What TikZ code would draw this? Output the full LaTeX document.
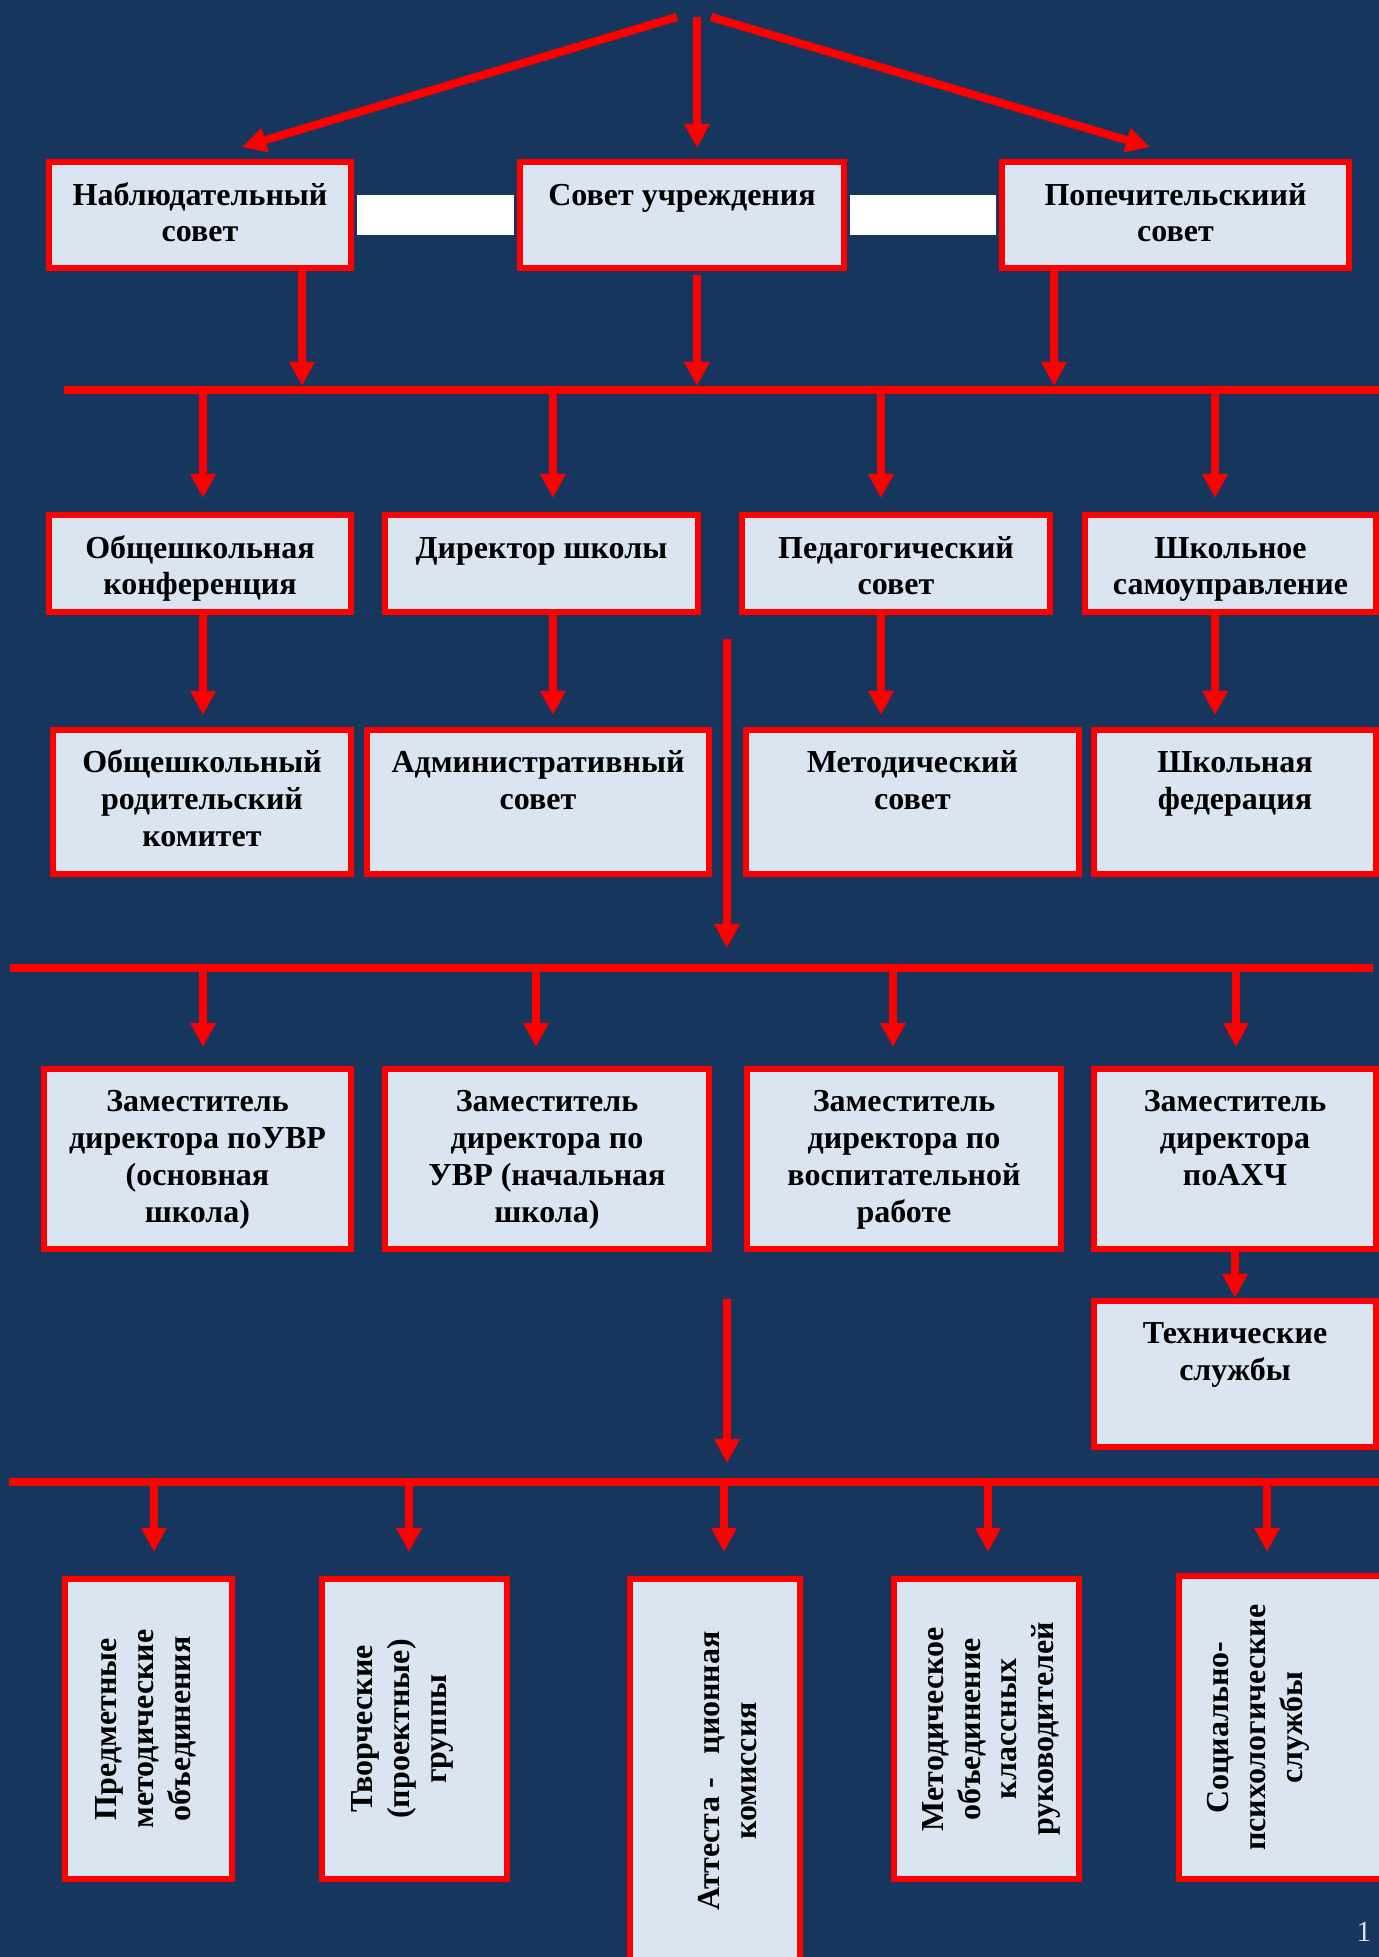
\documentclass[tikz,border=0pt]{standalone}
\usepackage{fontspec}
\setmainfont{Liberation Serif}
\usetikzlibrary{arrows.meta}

\definecolor{pagebg}{RGB}{23,54,93}
\definecolor{cardfill}{RGB}{219,229,241}
\newcommand{\cardfont}{\bfseries\fontsize{9.1}{10.5}\selectfont}
\newcommand{\toplines}[3]{\parbox[c][#2][t]{#1}{\centering\rule{0pt}{0.43cm}#3}}

\begin{document}
\begin{tikzpicture}[x=0.01cm, y=-0.01cm,
  card/.style={draw=red, fill=cardfill, line width=1.7pt, inner sep=0pt, font=\cardfont},
  sidetext/.style={rotate=90, align=center, inner sep=0pt, font=\cardfont},
  feed/.style={red, line width=2.3pt, -{Triangle[length=0.24cm, width=0.24cm]}},
  rail/.style={red, line width=2.3pt}]
\useasboundingbox (0,0) rectangle (1379,1957);
\fill [pagebg] (0,0) rectangle (1379,1957);
\clip (0,0) rectangle (1379,1957);

% councils
\node [card] (nab) at (200,215) {\toplines{3.02cm}{1.06cm}{Наблюдательный\\совет}};
\node [card] (sovet) at (682,215) {\toplines{3.24cm}{1.06cm}{Совет учреждения}};
\node [card] (pop) at (1175.5,215) {\toplines{3.47cm}{1.06cm}{Попечительскиий\\совет}};
\draw [white, line width=0.39cm, shorten <=0.03cm, shorten >=0.03cm] (nab.east) -- (sovet.west);
\draw [white, line width=0.39cm, shorten <=0.03cm, shorten >=0.03cm] (sovet.east) -- (pop.west);

\coordinate (apex) at (697,17);
\draw [feed] ([xshift=-0.2cm]apex) -- ([xshift=0.42cm,yshift=0.12cm]nab.north);
\draw [feed, shorten >=0.11cm] (apex) -- (apex |- sovet.north);
\draw [feed] ([xshift=0.14cm]apex) -- ([xshift=-0.255cm,yshift=0.12cm]pop.north);

% first rail
\coordinate (bus1w) at (64,390);
\coordinate (bus1e) at (1379,390);
\draw [rail] (bus1w) -- (bus1e);
\coordinate (b1n) at (302,390);
\coordinate (b1s) at (697,390);
\coordinate (b1p) at (1054,390);
\coordinate (b1a) at (203,390);
\coordinate (b1b) at (553,390);
\coordinate (b1c) at (881,390);
\coordinate (b1d) at (1215,390);
\draw [feed, shorten >=0.04cm] (nab.south -| b1n) -- (b1n);
\draw [feed, shorten >=0.04cm] ([yshift=-0.04cm]sovet.south -| b1s) -- (b1s);
\draw [feed, shorten >=0.04cm] (pop.south -| b1p) -- (b1p);

% second row
\node [card] (conf) at (200,563.5) {\toplines{3.02cm}{0.97cm}{Общешкольная\\конференция}};
\node [card] (dir) at (541.5,563.5) {\toplines{3.13cm}{0.97cm}{Директор школы}};
\node [card] (ped) at (896,563.5) {\toplines{3.08cm}{0.97cm}{Педагогический\\совет}};
\node [card] (selfgov) at (1230.5,563.5) {\toplines{2.91cm}{0.97cm}{Школьное\\самоуправление}};
\draw [feed, shorten >=0.14cm] (b1a) -- (b1a |- conf.north);
\draw [feed, shorten >=0.14cm] (b1b) -- (b1b |- dir.north);
\draw [feed, shorten >=0.14cm] (b1c) -- (b1c |- ped.north);
\draw [feed, shorten >=0.14cm] (b1d) -- (b1d |- selfgov.north);

% third row
\node [card] (parcom) at (202,802) {\toplines{2.98cm}{1.44cm}{Общешкольный\\родительский\\комитет}};
\node [card] (admin) at (538,802) {\toplines{3.42cm}{1.44cm}{Административный\\совет}};
\node [card] (metod) at (912.5,802) {\toplines{3.33cm}{1.44cm}{Методический\\совет}};
\node [card] (fed) at (1235,802) {\toplines{2.82cm}{1.44cm}{Школьная\\федерация}};
\draw [feed, shorten >=0.12cm] (conf.south -| b1a) -- (parcom.north -| b1a);
\draw [feed, shorten >=0.12cm] (dir.south -| b1b) -- (admin.north -| b1b);
\draw [feed, shorten >=0.12cm] (ped.south -| b1c) -- (metod.north -| b1c);
\draw [feed, shorten >=0.12cm] (selfgov.south -| b1d) -- (fed.north -| b1d);

% second rail
\coordinate (bus2w) at (10,968);
\coordinate (bus2e) at (1373,968);
\draw [rail] (bus2w) -- (bus2e);
\coordinate (drop1) at (727,639);
\coordinate (b2m) at (727,968);
\draw [feed, shorten >=0.2cm] (drop1) -- (b2m);
\coordinate (b2a) at (203,968);
\coordinate (b2b) at (536,968);
\coordinate (b2c) at (893,968);
\coordinate (b2d) at (1236,968);

% deputies
\node [card] (dep1) at (197.5,1159) {\toplines{3.07cm}{1.80cm}{Заместитель\\директора поУВР\\(основная\\школа)}};
\node [card] (dep2) at (547,1159) {\toplines{3.24cm}{1.80cm}{Заместитель\\директора по\\УВР (начальная\\школа)}};
\node [card] (dep3) at (904,1159) {\toplines{3.14cm}{1.80cm}{Заместитель\\директора по\\воспитательной\\работе}};
\node [card] (dep4) at (1235,1159) {\toplines{2.82cm}{1.80cm}{Заместитель\\директора\\поАХЧ}};
\draw [feed, shorten >=0.19cm] (b2a) -- (b2a |- dep1.north);
\draw [feed, shorten >=0.19cm] (b2b) -- (b2b |- dep2.north);
\draw [feed, shorten >=0.19cm] (b2c) -- (b2c |- dep3.north);
\draw [feed, shorten >=0.19cm] (b2d) -- (b2d |- dep4.north);

\node [card] (tech) at (1235,1374) {\toplines{2.82cm}{1.46cm}{Технические\\службы}};
\draw [feed] (dep4) -- (tech);

% third rail
\coordinate (bus3w) at (9,1482);
\coordinate (bus3e) at (1379,1482);
\draw [rail] (bus3w) -- (bus3e);
\coordinate (drop2) at (727,1299);
\coordinate (b3m) at (727,1482);
\draw [feed, shorten >=0.19cm] (drop2) -- (b3m);
\coordinate (b3a) at (154,1482);
\coordinate (b3b) at (409,1482);
\coordinate (b3c) at (724,1482);
\coordinate (b3d) at (988,1482);
\coordinate (b3e) at (1267,1482);

% bottom groups
\node [card, minimum width=1.67cm, minimum height=3.00cm,
  label={[xshift=-0.03cm, sidetext]center:{Предметные\\методические\\объединения}}] (pmo) at (148.5,1729) {};
\node [card, minimum width=1.85cm, minimum height=3.00cm,
  label={[xshift=-0.12cm, sidetext]center:{Творческие\\(проектные)\\группы}}] (tvg) at (414.5,1729) {};
\node [card, minimum width=1.70cm, minimum height=3.84cm,
  label={[xshift=0.13cm, sidetext]center:{Аттеста - \enskip ционная\\комиссия}}] (att) at (715,1771) {};
\node [card, minimum width=1.85cm, minimum height=3.00cm,
  label={[xshift=0.05cm, sidetext]center:{Методическое\\объединение\\классных\\руководителей}}] (moc) at (986.5,1729) {};
\node [card, minimum width=2.08cm, minimum height=3.03cm,
  label={[xshift=-0.25cm, sidetext]center:{Социально-\\психологические\\службы}}] (sps) at (1283,1727.5) {};
\draw [feed, shorten >=0.24cm] (b3a) -- (b3a |- pmo.north);
\draw [feed, shorten >=0.24cm] (b3b) -- (b3b |- tvg.north);
\draw [feed, shorten >=0.24cm] (b3c) -- (b3c |- att.north);
\draw [feed, shorten >=0.24cm] (b3d) -- (b3d |- moc.north);
\draw [feed, shorten >=0.24cm] (b3e) -- (b3e |- pmo.north);

\node [text=white!88!black, font=\fontsize{8.3}{10}\selectfont] (pageno) at (1364,1932) {1};
\end{tikzpicture}
\end{document}
